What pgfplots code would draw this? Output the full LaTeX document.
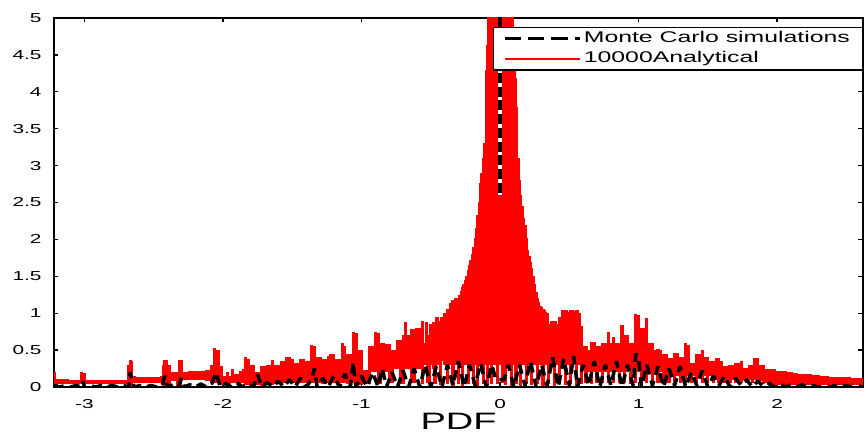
\documentclass[border=0pt]{standalone}
\usepackage{fontspec}
\setmainfont{Liberation Sans}[FakeStretch=1.6]
\usepackage{pgfplots}
\usepackage{pgfplotstable}
\pgfplotsset{compat=1.18}
% Analytical curve: at each x the red trace sweeps from lo to hi
\pgfplotstableread{
x lo hi
-3.22 0.00 0.20
-3.20 0.03 0.11
-3.18 0.04 0.11
-3.16 0.04 0.11
-3.14 0.04 0.11
-3.12 0.04 0.11
-3.10 0.04 0.10
-3.08 0.04 0.10
-3.06 0.04 0.10
-3.04 0.04 0.10
-3.02 0.04 0.20
-3.00 0.04 0.19
-2.98 0.04 0.10
-2.96 0.04 0.10
-2.94 0.04 0.10
-2.92 0.04 0.10
-2.90 0.04 0.10
-2.88 0.04 0.10
-2.86 0.04 0.10
-2.84 0.04 0.10
-2.82 0.04 0.10
-2.80 0.04 0.10
-2.78 0.04 0.10
-2.76 0.04 0.10
-2.74 0.04 0.10
-2.72 0.04 0.10
-2.70 0.04 0.10
-2.68 0.00 0.30
-2.67 0.00 0.37
-2.66 0.02 0.35
-2.64 0.05 0.15
-2.62 0.06 0.14
-2.60 0.06 0.14
-2.58 0.06 0.14
-2.56 0.06 0.14
-2.54 0.06 0.14
-2.52 0.06 0.14
-2.50 0.06 0.14
-2.48 0.06 0.14
-2.46 0.06 0.14
-2.44 0.06 0.15
-2.43 0.02 0.30
-2.42 0.02 0.37
-2.41 0.05 0.36
-2.40 0.00 0.20
-2.39 0.00 0.30
-2.37 0.08 0.20
-2.35 0.08 0.20
-2.33 0.02 0.20
-2.31 0.02 0.37
-2.30 0.08 0.36
-2.28 0.10 0.20
-2.26 0.10 0.20
-2.24 0.10 0.21
-2.22 0.10 0.21
-2.20 0.10 0.21
-2.18 0.10 0.21
-2.16 0.09 0.22
-2.14 0.09 0.22
-2.12 0.08 0.23
-2.10 0.08 0.23
-2.08 0.07 0.30
-2.06 0.05 0.53
-2.04 0.05 0.50
-2.03 0.05 0.50
-2.01 0.03 0.28
-1.99 0.03 0.15
-1.97 0.02 0.20
-1.95 0.02 0.15
-1.93 0.05 0.25
-1.91 0.05 0.18
-1.89 0.02 0.18
-1.87 0.05 0.22
-1.85 0.05 0.25
-1.84 0.03 0.40
-1.82 0.03 0.38
-1.80 0.02 0.30
-1.78 0.02 0.30
-1.76 0.03 0.20
-1.74 0.03 0.20
-1.72 0.02 0.28
-1.70 0.02 0.28
-1.68 0.03 0.30
-1.66 0.03 0.30
-1.64 0.03 0.37
-1.62 0.04 0.30
-1.60 0.04 0.30
-1.58 0.05 0.35
-1.56 0.05 0.35
-1.54 0.05 0.40
-1.52 0.05 0.40
-1.50 0.05 0.38
-1.48 0.06 0.33
-1.46 0.06 0.33
-1.44 0.05 0.38
-1.42 0.05 0.38
-1.40 0.05 0.35
-1.38 0.05 0.35
-1.36 0.05 0.57
-1.34 0.05 0.55
-1.32 0.06 0.40
-1.30 0.06 0.40
-1.28 0.04 0.38
-1.26 0.04 0.38
-1.24 0.05 0.42
-1.22 0.05 0.45
-1.20 0.05 0.45
-1.18 0.05 0.38
-1.16 0.05 0.38
-1.14 0.05 0.60
-1.12 0.05 0.55
-1.10 0.04 0.45
-1.08 0.04 0.45
-1.06 0.05 0.75
-1.04 0.05 0.73
-1.02 0.03 0.50
-1.00 0.03 0.50
-0.98 0.05 0.23
-0.96 0.05 0.23
-0.94 0.04 0.55
-0.92 0.20 0.55
-0.90 0.20 0.75
-0.88 0.04 0.73
-0.86 0.04 0.60
-0.84 0.20 0.60
-0.82 0.20 0.58
-0.80 0.05 0.58
-0.78 0.05 0.50
-0.76 0.25 0.50
-0.74 0.25 0.64
-0.72 0.04 0.64
-0.70 0.04 0.70
-0.68 0.25 0.88
-0.66 0.25 0.70
-0.64 0.05 0.79
-0.62 0.05 0.79
-0.60 0.25 0.80
-0.58 0.25 0.80
-0.56 0.04 0.90
-0.54 0.30 0.60
-0.53 0.30 0.88
-0.52 0.05 0.70
-0.51 0.05 0.70
-0.50 0.30 0.85
-0.49 0.30 0.85
-0.48 0.25 0.88
-0.47 0.04 0.88
-0.46 0.30 0.95
-0.45 0.30 0.95
-0.44 0.30 0.90
-0.43 0.03 0.90
-0.42 0.35 0.95
-0.41 0.35 0.95
-0.40 0.30 1.00
-0.39 0.30 1.00
-0.38 0.04 1.05
-0.37 0.35 1.05
-0.36 0.30 1.14
-0.35 0.30 1.14
-0.34 0.02 1.18
-0.33 0.35 1.18
-0.32 0.30 1.20
-0.31 0.30 1.20
-0.30 0.04 1.20
-0.29 0.35 1.25
-0.28 0.30 1.30
-0.27 0.02 1.35
-0.26 0.35 1.40
-0.25 0.30 1.45
-0.24 0.30 1.50
-0.23 0.04 1.58
-0.22 0.35 1.65
-0.21 0.30 1.72
-0.20 0.30 1.80
-0.19 0.04 1.90
-0.18 0.35 2.02
-0.17 0.30 2.15
-0.16 0.02 2.33
-0.15 0.35 2.50
-0.14 0.30 2.76
-0.13 0.35 2.90
-0.12 0.04 3.10
-0.11 0.30 3.30
-0.10 0.35 4.00
-0.095 0.30 4.30
-0.09 0.02 4.63
-0.085 0.35 5.20
-0.08 0.30 6.00
-0.07 0.35 6.00
-0.06 0.04 6.00
-0.05 0.30 6.00
-0.04 0.35 6.00
-0.03 0.30 6.00
-0.025 0.30 6.00
-0.02 0.04 2.60
-0.01 0.35 2.60
0.00 0.30 2.60
0.01 0.30 2.60
0.02 0.05 2.60
0.025 0.30 6.00
0.03 0.35 6.00
0.04 0.03 6.00
0.05 0.35 6.00
0.06 0.30 6.00
0.07 0.35 6.00
0.08 0.02 6.00
0.09 0.30 6.00
0.10 0.35 4.60
0.105 0.30 4.40
0.11 0.35 4.19
0.115 0.04 3.80
0.12 0.30 3.39
0.13 0.35 3.10
0.14 0.30 2.80
0.15 0.02 2.60
0.16 0.35 2.45
0.17 0.30 2.29
0.18 0.35 2.20
0.19 0.04 2.02
0.20 0.30 1.85
0.21 0.35 1.78
0.22 0.30 1.70
0.23 0.03 1.61
0.24 0.35 1.50
0.25 0.30 1.40
0.26 0.35 1.29
0.27 0.04 1.20
0.28 0.30 1.15
0.29 0.35 1.10
0.30 0.30 1.08
0.31 0.02 1.06
0.32 0.35 1.04
0.33 0.30 1.02
0.34 0.35 1.00
0.35 0.04 0.85
0.36 0.30 0.85
0.37 0.35 0.90
0.38 0.30 0.90
0.39 0.02 0.90
0.40 0.35 0.90
0.41 0.30 0.85
0.42 0.35 0.85
0.43 0.04 0.95
0.44 0.30 0.95
0.45 0.35 1.04
0.46 0.30 1.04
0.47 0.03 1.04
0.48 0.35 1.04
0.49 0.30 1.02
0.50 0.35 1.02
0.51 0.04 1.04
0.52 0.30 1.04
0.53 0.35 1.03
0.54 0.30 1.03
0.55 0.02 1.04
0.56 0.35 1.04
0.57 0.30 1.00
0.58 0.35 0.82
0.59 0.04 0.82
0.60 0.30 0.55
0.62 0.05 0.55
0.64 0.20 0.50
0.66 0.04 0.61
0.68 0.20 0.61
0.70 0.05 0.55
0.72 0.20 0.55
0.74 0.05 0.60
0.76 0.20 0.60
0.78 0.05 0.75
0.80 0.20 0.60
0.82 0.05 0.68
0.84 0.20 0.60
0.86 0.05 0.60
0.88 0.20 0.84
0.90 0.05 0.70
0.92 0.20 0.70
0.94 0.04 0.60
0.96 0.20 0.60
0.98 0.05 0.99
1.00 0.20 0.97
1.02 0.05 0.80
1.04 0.20 0.80
1.06 0.05 0.94
1.08 0.20 0.59
1.10 0.04 0.59
1.12 0.20 0.50
1.14 0.05 0.52
1.16 0.20 0.50
1.18 0.04 0.45
1.20 0.15 0.45
1.22 0.05 0.39
1.24 0.15 0.39
1.26 0.05 0.46
1.28 0.15 0.46
1.30 0.06 0.40
1.32 0.15 0.40
1.34 0.05 0.59
1.36 0.15 0.57
1.38 0.06 0.33
1.40 0.15 0.33
1.42 0.05 0.45
1.44 0.15 0.45
1.46 0.05 0.50
1.48 0.15 0.40
1.50 0.06 0.40
1.52 0.15 0.35
1.54 0.05 0.35
1.56 0.10 0.39
1.58 0.05 0.39
1.60 0.10 0.35
1.62 0.05 0.28
1.64 0.10 0.28
1.66 0.06 0.30
1.68 0.10 0.30
1.70 0.05 0.32
1.72 0.10 0.32
1.74 0.05 0.35
1.76 0.10 0.26
1.78 0.05 0.26
1.80 0.10 0.30
1.82 0.06 0.30
1.84 0.10 0.39
1.86 0.05 0.39
1.88 0.08 0.30
1.90 0.04 0.30
1.92 0.05 0.25
1.94 0.03 0.25
1.96 0.04 0.24
1.98 0.03 0.24
2.00 0.03 0.22
2.02 0.03 0.22
2.04 0.03 0.21
2.06 0.03 0.21
2.08 0.03 0.20
2.10 0.03 0.20
2.12 0.03 0.19
2.14 0.03 0.19
2.16 0.03 0.18
2.18 0.03 0.18
2.20 0.03 0.17
2.22 0.03 0.17
2.24 0.03 0.17
2.26 0.03 0.16
2.28 0.03 0.16
2.30 0.03 0.16
2.32 0.03 0.15
2.34 0.03 0.15
2.36 0.03 0.15
2.38 0.03 0.14
2.40 0.03 0.14
2.42 0.03 0.14
2.44 0.03 0.14
2.46 0.03 0.13
2.48 0.03 0.13
2.50 0.03 0.13
2.52 0.03 0.13
2.54 0.03 0.12
2.56 0.03 0.12
2.58 0.03 0.12
2.60 0.03 0.12
2.62 0.03 0.12
}\redtab
\begin{document}
\begin{tikzpicture}
\begin{axis}[
  scale only axis,
  width=323.6pt, height=147.6pt,
  xmin=-3.22, xmax=2.62, ymin=0, ymax=5,
  xtick={-3,-2,-1,0,1,2},
  ytick={0,0.5,1,1.5,2,2.5,3,3.5,4,4.5,5},
  tick align=inside,
  major tick length=1.8pt,
  axis line style={line width=0.6pt},
  every tick/.style={black, line width=0.5pt},
  /pgf/number format/assume math mode=true,
  tick label style={font=\fontsize{5.2}{6}\selectfont},
  yticklabel style={xshift=-1.5pt},
  xticklabel style={yshift=-1.5pt},
  xlabel={PDF},
  xlabel style={font=\fontsize{9.5}{11}\selectfont, at={(axis description cs:0.5,0)}, anchor=center, yshift=-13.6pt},
  legend cell align=left,
  legend image code/.code={\draw[#1] (0pt,0pt) -- (30pt,0pt);},
  legend style={at={(rel axis cs:1,0.976)}, anchor=north east, draw=black, line width=0.5pt,
    font=\fontsize{6.2}{7}\selectfont, inner xsep=4pt, inner ysep=0.5pt, row sep=0pt,
    nodes={inner sep=1pt}},
]
\addlegendimage{black, line width=1.1pt, dash pattern=on 6.5pt off 2.8pt}
\addlegendentry{Monte Carlo simulations}
\addlegendimage{red, line width=0.7pt}
\addlegendentry{10000Analytical}

% Monte Carlo simulations: central peak (seen through the gap of the red peak)
\addplot[forget plot, black, line width=1.5pt, dash pattern=on 4pt off 1.5pt] coordinates {
(0,2.63) (0,8)
};

% Analytical (red): one vertical stroke per x from lo to hi
\addplot[forget plot, draw=none, mark=none,
  error bars/.cd, y dir=minus, y explicit, error mark=none,
  error bar style={draw=red, solid, line width=1.25pt}]
  table[x=x, y=hi, y error minus expr=\thisrow{hi}-\thisrow{lo}] {\redtab};

% Monte Carlo simulations (black dashed), low part
\addplot[forget plot, black, line width=1.4pt, dash pattern=on 4pt off 2.5pt, line join=bevel] coordinates {
(-3.22,0.02) (-3.18,0.0) (-3.14,0.02) (-3.1,0.0) (-3.06,0.02) (-3.02,0.0) (-3.01,0.08) (-3.0,0.0)
(-2.96,0.02) (-2.92,0.0) (-2.88,0.02) (-2.84,0.0) (-2.8,0.02) (-2.76,0.0) (-2.72,0.02) (-2.68,0.0)
(-2.67,0.2) (-2.66,0.1) (-2.64,0.0) (-2.6,0.02) (-2.56,0.0) (-2.52,0.02) (-2.48,0.0) (-2.44,0.02)
(-2.42,0.15) (-2.4,0.0) (-2.36,0.03) (-2.32,0.0) (-2.3,0.12) (-2.28,0.0) (-2.24,0.03) (-2.2,0.0)
(-2.16,0.04) (-2.12,0.0) (-2.08,0.05) (-2.05,0.2) (-2.02,0.0) (-1.98,0.05) (-1.94,0.0) (-1.9,0.06)
(-1.86,0.0) (-1.82,0.05) (-1.78,0.0) (-1.75,0.17) (-1.72,0.0) (-1.68,0.06) (-1.64,0.0) (-1.6,0.08)
(-1.56,0.0) (-1.52,0.1) (-1.48,0.0) (-1.44,0.12) (-1.4,0.0) (-1.36,0.1) (-1.34,0.25) (-1.32,0.0)
(-1.28,0.12) (-1.24,0.0) (-1.2,0.15) (-1.16,0.0) (-1.12,0.18) (-1.08,0.0) (-1.06,0.34) (-1.04,0.0)
(-1.0,0.15) (-0.96,0.0) (-0.92,0.2) (-0.88,0.0) (-0.85,0.25) (-0.82,0.0) (-0.78,0.2) (-0.74,0.0)
(-0.7,0.22) (-0.66,0.0) (-0.62,0.25) (-0.58,0.0) (-0.54,0.3) (-0.5,0.0) (-0.46,0.28) (-0.42,0.0)
(-0.38,0.3) (-0.34,0.02) (-0.3,0.35) (-0.26,0.0) (-0.22,0.3) (-0.18,0.02) (-0.14,0.32) (-0.1,0.0)
(-0.06,0.3) (-0.03,0.1) (0.03,0.1) (0.06,0.3) (0.1,0.0)
(0.14,0.3) (0.18,0.02) (0.22,0.35) (0.26,0.0) (0.3,0.3) (0.34,0.02) (0.38,0.4) (0.42,0.0)
(0.46,0.38) (0.5,0.02) (0.53,0.42) (0.56,0.0) (0.6,0.3) (0.64,0.02) (0.68,0.35) (0.72,0.0)
(0.76,0.3) (0.8,0.02) (0.84,0.35) (0.88,0.0) (0.92,0.3) (0.96,0.02) (0.98,0.45) (1.0,0.4)
(1.02,0.0) (1.06,0.3) (1.1,0.02) (1.14,0.28) (1.18,0.0) (1.22,0.25) (1.26,0.02) (1.3,0.28)
(1.34,0.0) (1.38,0.2) (1.42,0.02) (1.46,0.22) (1.5,0.0) (1.54,0.15) (1.58,0.02) (1.62,0.15)
(1.66,0.0) (1.7,0.12) (1.74,0.02) (1.78,0.1) (1.82,0.0) (1.86,0.08) (1.9,0.01) (1.94,0.05)
(1.98,0.0) (2.02,0.04) (2.06,0.0) (2.1,0.03) (2.14,0.0) (2.18,0.03) (2.22,0.0) (2.26,0.02)
(2.3,0.0) (2.34,0.02) (2.38,0.0) (2.42,0.02) (2.46,0.0) (2.5,0.02) (2.54,0.0) (2.58,0.02) (2.62,0.0)
};
\end{axis}
\pgfresetboundingbox
\useasboundingbox ([xshift=-21.6pt,yshift=-18pt]current axis.south west) rectangle ([xshift=0.8pt,yshift=7.2pt]current axis.north east);
\end{tikzpicture}
\end{document}
